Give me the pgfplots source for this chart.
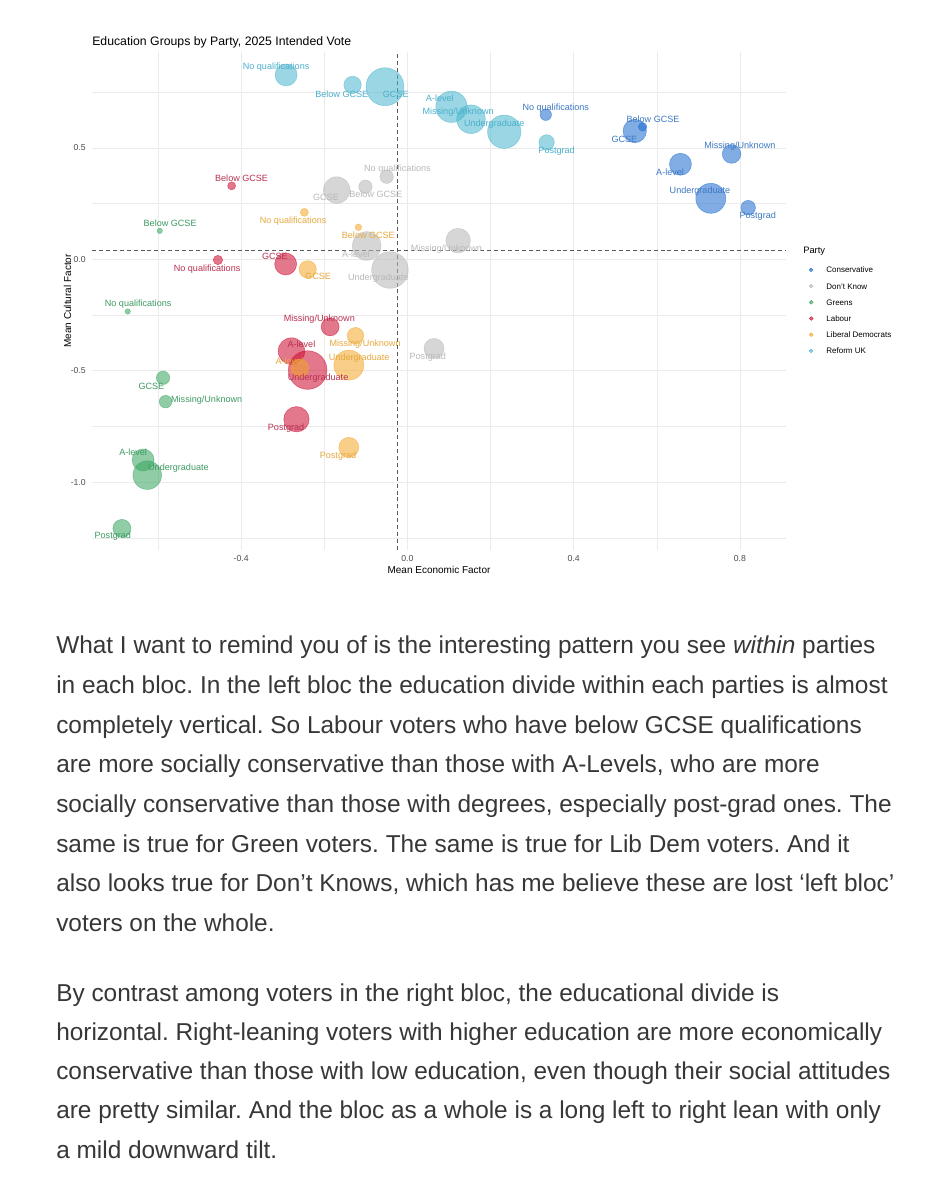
\documentclass[border=0pt]{standalone}
\usepackage{fontspec}
\setmainfont{Liberation Sans}
\usepackage{pgfplots}
\pgfplotsset{compat=1.18}
\usepackage{pgfplotstable}

% party colours (points) and label colours
\definecolor{cCon}{HTML}{1A6BCF}
\definecolor{cDK}{HTML}{B5B5B5}
\definecolor{cGrn}{HTML}{35A45D}
\definecolor{cLab}{HTML}{CC092F}
\definecolor{cLD}{HTML}{F3A629}
\definecolor{cRef}{HTML}{48B5CF}
\definecolor{lCon}{HTML}{3D78C4}
\definecolor{lDK}{HTML}{B9B9B9}
\definecolor{lGrn}{HTML}{3F9A63}
\definecolor{lLab}{HTML}{B8304F}
\definecolor{lLD}{HTML}{E6A93F}
\definecolor{lRef}{HTML}{4AB0CC}
\definecolor{tickgray}{HTML}{4D4D4D}
\definecolor{bodyc}{HTML}{363737}

\newcommand\labfont{\fontsize{6.8}{8}\selectfont}
\newcommand\bodyfont{\fontsize{18.3}{22}\selectfont}

% x, y: mean economic / cultural factor; r: bubble radius (px); lx, ly: label position
\pgfplotstableread[col sep=comma]{
x,y,r,lx,ly,lab
0.333,0.649,5.7,0.357,0.679,No qualifications
0.566,0.595,4.3,0.591,0.630,Below GCSE
0.547,0.576,11.7,0.522,0.539,GCSE
0.657,0.427,11,0.632,0.391,A-level
0.780,0.473,9.3,0.800,0.506,Missing/Unknown
0.730,0.274,15,0.704,0.307,Undergraduate
0.820,0.232,7.3,0.843,0.194,Postgrad
}\tblCon
\pgfplotstableread[col sep=comma]{
x,y,r,lx,ly,lab
-0.050,0.371,6.7,-0.024,0.404,No qualifications
-0.101,0.326,6.7,-0.076,0.292,Below GCSE
-0.170,0.311,13.3,-0.196,0.277,GCSE
-0.098,0.060,14.3,-0.124,0.024,A-level
0.122,0.084,12.3,0.094,0.046,Missing/Unknown
-0.042,-0.048,18.3,-0.070,-0.085,Undergraduate
0.064,-0.400,10,0.049,-0.440,Postgrad
}\tblDK
\pgfplotstableread[col sep=comma]{
x,y,r,lx,ly,lab
-0.673,-0.234,2.7,-0.648,-0.201,No qualifications
-0.596,0.128,2.7,-0.571,0.162,Below GCSE
-0.588,-0.532,6.7,-0.616,-0.572,GCSE
-0.636,-0.901,11,-0.660,-0.868,A-level
-0.582,-0.639,6.3,-0.483,-0.633,Missing/Unknown
-0.626,-0.969,14.3,-0.551,-0.938,Undergraduate
-0.687,-1.208,9,-0.709,-1.242,Postgrad
}\tblGrn
\pgfplotstableread[col sep=comma]{
x,y,r,lx,ly,lab
-0.456,-0.003,4.7,-0.482,-0.042,No qualifications
-0.423,0.330,4,-0.399,0.364,Below GCSE
-0.293,-0.021,11,-0.319,0.015,GCSE
-0.279,-0.412,13.3,-0.255,-0.382,A-level
-0.186,-0.303,9,-0.212,-0.268,Missing/Unknown
-0.240,-0.497,19.3,-0.215,-0.532,Undergraduate
-0.267,-0.718,12.7,-0.292,-0.756,Postgrad
}\tblLab
\pgfplotstableread[col sep=comma]{
x,y,r,lx,ly,lab
-0.248,0.211,4,-0.275,0.173,No qualifications
-0.118,0.144,3.3,-0.094,0.106,Below GCSE
-0.240,-0.045,8.7,-0.215,-0.078,GCSE
-0.259,-0.488,9,-0.284,-0.457,A-level
-0.125,-0.343,8.3,-0.102,-0.382,Missing/Unknown
-0.141,-0.475,15,-0.116,-0.445,Undergraduate
-0.141,-0.844,10,-0.167,-0.883,Postgrad
}\tblLD
\pgfplotstableread[col sep=comma]{
x,y,r,lx,ly,lab
-0.292,0.828,11,-0.316,0.863,No qualifications
-0.132,0.783,8.7,-0.158,0.742,Below GCSE
-0.054,0.775,19,-0.028,0.739,GCSE
0.106,0.685,15.7,0.078,0.723,A-level
0.153,0.629,14.3,0.122,0.660,Missing/Unknown
0.233,0.573,16.7,0.209,0.606,Undergraduate
0.335,0.525,7.7,0.359,0.486,Postgrad
}\tblRef

\pgfplotsset{
  bub/.style={scatter, only marks, mark=*, forget plot,
    scatter/use mapped color={draw=#1, fill=#1},
    mark options={fill opacity=0.55, draw opacity=0.55, line width=0.4pt},
    visualization depends on={0.75*\thisrow{r} \as \rr},
    scatter/@pre marker code/.append style={/tikz/mark size=\rr}},
  lbl/.style={only marks, mark=none, forget plot,
    nodes near coords, point meta=explicit symbolic,
    every node near coord/.append style={font=\labfont, text=#1, anchor=center, inner sep=0pt}},
}

\begin{document}
\frenchspacing
\begin{tikzpicture}
\fill[white] (0,0) rectangle (714pt,900pt);
\begin{axis}[
  at={(69pt,487.5pt)}, anchor=south west,
  width=520.5pt, height=373.5pt, scale only axis,
  xmin=-0.759, xmax=0.911, ymin=-1.305, ymax=0.931,
  clip=false,
  axis line style={draw=none},
  major tick length=0pt, minor tick length=0pt,
  xtick={-0.4,0,0.4,0.8}, minor xtick={-0.6,-0.2,0.2,0.6},
  ytick={-1,-0.5,0,0.5}, minor ytick={-1.25,-0.75,-0.25,0.25,0.75},
  grid=both,
  major grid style={draw=black!8, line width=0.5pt},
  minor grid style={draw=black!8, line width=0.3pt},
  /pgf/number format/.cd, fixed, fixed zerofill, precision=1, assume math mode=true, /pgfplots/.cd,
  ticklabel style={font=\fontsize{6.5}{7}\selectfont, text=tickgray, inner sep=0pt},
  xticklabel style={anchor=north, yshift=-4pt},
  yticklabel style={anchor=east, xshift=-4.5pt},
  xlabel={Mean Economic Factor}, ylabel={Mean Cultural Factor},
  xlabel style={at={(axis description cs:0.5,-0.0402)}, anchor=center, font=\fontsize{7.5}{9}\selectfont, inner sep=0pt},
  ylabel style={at={(axis description cs:-0.0353,0.5)}, anchor=center, font=\fontsize{7.5}{9}\selectfont, inner sep=0pt},
  title={Education Groups by Party, 2025 Intended Vote},
  title style={at={(axis description cs:0,1.004)}, anchor=west, font=\fontsize{9.2}{11}\selectfont, inner sep=0pt},
  legend image code/.code={\filldraw[#1, line width=0.3pt] (0pt,0pt) circle (1.4pt);},
  legend style={at={(axis description cs:1.0333,0.5683)}, anchor=north west,
    draw=none, fill=none, inner sep=0pt, outer sep=0pt,
    font=\fontsize{6}{7}\selectfont, row sep=7.75pt,
    nodes={inner sep=0pt, text height=4.4pt, text depth=0pt},
    /tikz/every odd column/.append style={column sep=9.85pt}},
  legend cell align=left,
]
% reference lines
\addplot[forget plot, black!65, line width=0.55pt, dash pattern=on 3pt off 2.2pt] coordinates {(-0.025,-1.305) (-0.025,0.931)};
\addplot[forget plot, black!65, line width=0.55pt, dash pattern=on 3pt off 2.2pt] coordinates {(-0.759,0.042) (0.911,0.042)};

% bubbles
\addplot[bub=cCon] table[x=x,y=y] {\tblCon};
\addplot[bub=cDK]  table[x=x,y=y] {\tblDK};
\addplot[bub=cGrn] table[x=x,y=y] {\tblGrn};
\addplot[bub=cLab] table[x=x,y=y] {\tblLab};
\addplot[bub=cLD]  table[x=x,y=y] {\tblLD};
\addplot[bub=cRef] table[x=x,y=y] {\tblRef};

% labels
\addplot[lbl=lCon] table[x=lx,y=ly,meta=lab] {\tblCon};
\addplot[lbl=lDK]  table[x=lx,y=ly,meta=lab] {\tblDK};
\addplot[lbl=lGrn] table[x=lx,y=ly,meta=lab] {\tblGrn};
\addplot[lbl=lLab] table[x=lx,y=ly,meta=lab] {\tblLab};
\addplot[lbl=lLD]  table[x=lx,y=ly,meta=lab] {\tblLD};
\addplot[lbl=lRef] table[x=lx,y=ly,meta=lab] {\tblRef};

% legend
\addlegendimage{fill=cCon!60, draw=cCon}\addlegendentry{Conservative}
\addlegendimage{fill=cDK!60, draw=cDK}\addlegendentry{Don't Know}
\addlegendimage{fill=cGrn!60, draw=cGrn}\addlegendentry{Greens}
\addlegendimage{fill=cLab!60, draw=cLab}\addlegendentry{Labour}
\addlegendimage{fill=cLD!60, draw=cLD}\addlegendentry{Liberal Democrats}
\addlegendimage{fill=cRef!60, draw=cRef}\addlegendentry{Reform UK}
\end{axis}

\begin{scope}[x=0.75pt, y=-0.75pt, yshift=900pt]
\node[anchor=west, inner sep=0pt, font=\fontsize{7}{8}\selectfont] at (803,251.5) {Party};
\begin{scope}[every node/.style={anchor=base west, inner sep=0pt, font=\bodyfont, text=bodyc}]
\node at (56,654) {What I want to remind you of is the interesting pattern you see \textit{within} parties};
\node at (56,694) {in each bloc. In the left bloc the education divide within each parties is almost};
\node at (56,734) {completely vertical. So Labour voters who have below GCSE qualifications};
\node at (56,773) {are more socially conservative than those with A-Levels, who are more};
\node at (56,813) {socially conservative than those with degrees, especially post-grad ones. The};
\node at (56,853) {same is true for Green voters. The same is true for Lib Dem voters. And it};
\node at (56,892) {also looks true for Don’t Knows, which has me believe these are lost ‘left bloc’};
\node at (56,932) {voters on the whole.};
\node at (56,1002) {By contrast among voters in the right bloc, the educational divide is};
\node at (56,1041) {horizontal. Right-leaning voters with higher education are more economically};
\node at (56,1080) {conservative than those with low education, even though their social attitudes};
\node at (56,1119) {are pretty similar. And the bloc as a whole is a long left to right lean with only};
\node at (56,1159) {a mild downward tilt.};
\end{scope}
\end{scope}
\end{tikzpicture}
\end{document}
